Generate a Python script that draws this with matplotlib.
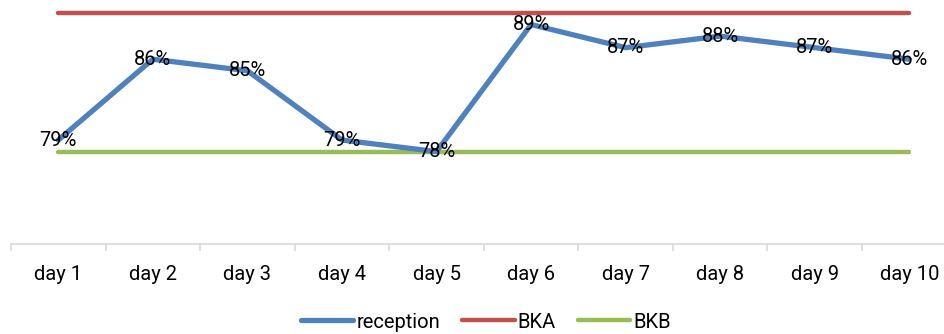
import matplotlib.pyplot as plt
from matplotlib.ticker import FixedLocator

days = ["day 1", "day 2", "day 3", "day 4", "day 5",
        "day 6", "day 7", "day 8", "day 9", "day 10"]
reception = [79, 86, 85, 79, 78, 89, 87, 88, 87, 86]
bka = [90] * 10
bkb = [78] * 10

plt.rcParams["font.family"] = ["Roboto", "DejaVu Sans"]

fig = plt.figure(figsize=(9.45, 3.34), dpi=100)
ax = fig.add_axes([11 / 945, 1 - 244 / 334, 945.6 / 945, 231 / 334])

x = list(range(len(days)))
ax.plot(x, reception, color="#4F81BD", lw=3.8, solid_capstyle="round",
        solid_joinstyle="round", label="reception", zorder=3, clip_on=False)
ax.plot(x, bka, color="#C0504D", lw=3.2, solid_capstyle="round",
        label="BKA", zorder=2, clip_on=False)
ax.plot(x, bkb, color="#9BBB59", lw=3.2, solid_capstyle="round",
        label="BKB", zorder=2, clip_on=False)

for xi, v in zip(x, reception):
    ax.text(xi, v, f"{v}%", ha="center", va="center", fontsize=14.5,
            color="black", zorder=4)

ax.set_xlim(-0.5, 9.5)
ax.set_ylim(70, 90)

for side in ("top", "right", "left"):
    ax.spines[side].set_visible(False)
ax.spines["bottom"].set_color("#D9D9D9")
ax.spines["bottom"].set_linewidth(1.2)
ax.set_yticks([])

ax.set_xticks(x)
ax.set_xticklabels(days, fontsize=14.5)
ax.tick_params(axis="x", which="major", length=0, pad=15)
ax.xaxis.set_minor_locator(FixedLocator([i - 0.5 for i in range(11)]))
ax.tick_params(axis="x", which="minor", length=5, width=1.2, color="#D9D9D9")

fig.legend(loc="center", bbox_to_anchor=(486 / 945, 1 - 322 / 334), ncol=3,
           frameon=False, fontsize=14.5, handlelength=2.6, handletextpad=0.15,
           columnspacing=1.1, borderaxespad=0)

fig.savefig("out.png", dpi=100)
